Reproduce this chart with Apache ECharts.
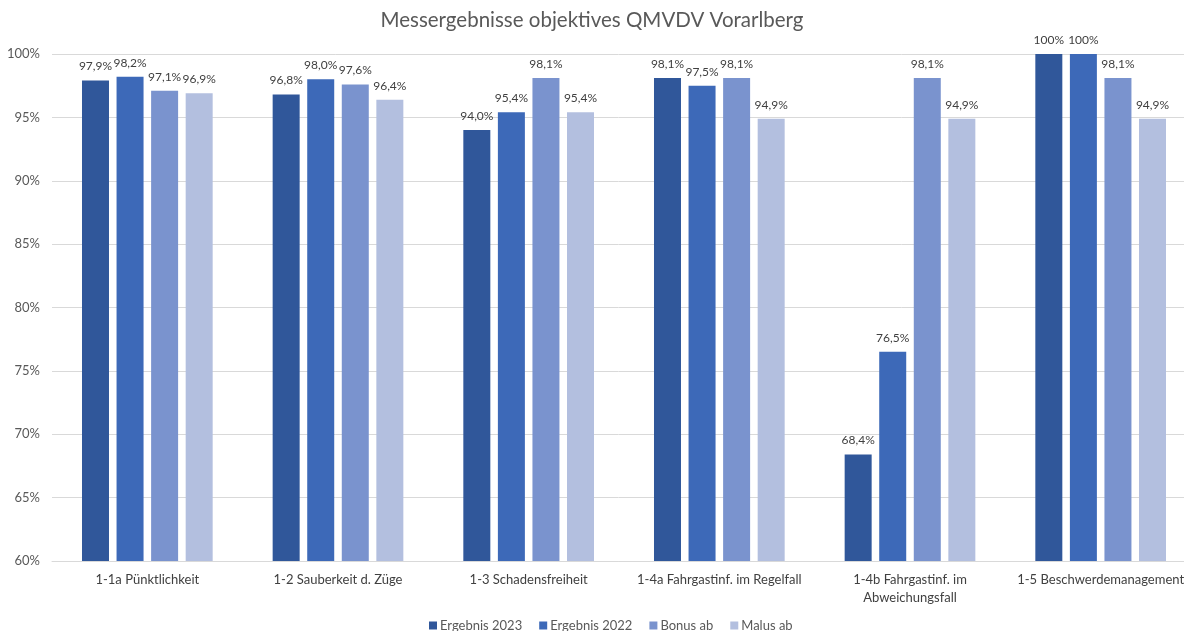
<!DOCTYPE html>
<html>
<head>
<meta charset="utf-8">
<script src="https://cdn.jsdelivr.net/npm/echarts@6/dist/echarts.min.js"></script>
<style>
  html, body { margin: 0; padding: 0; background: #ffffff; }
  #chart { width: 1184px; height: 631px; }
</style>
</head>
<body>
<div id="chart"></div>
<script>
const categories = [
  '1-1a Pünktlichkeit',
  '1-2 Sauberkeit d. Züge',
  '1-3 Schadensfreiheit',
  '1-4a Fahrgastinf. im Regelfall',
  '1-4b Fahrgastinf. im\nAbweichungsfall',
  '1-5 Beschwerdemanagement'
];
const seriesNames = ['Ergebnis 2023', 'Ergebnis 2022', 'Bonus ab', 'Malus ab'];
const ergebnis2023 = [97.9, 96.8, 94.0, 98.1, 68.4, 100];
const ergebnis2022 = [98.2, 98.0, 95.4, 97.5, 76.5, 100];
const bonusAb      = [97.1, 97.6, 98.1, 98.1, 98.1, 98.1];
const malusAb      = [96.9, 96.4, 95.4, 94.9, 94.9, 94.9];
const yTicks = [60, 65, 70, 75, 80, 85, 90, 95, 100];

const colors = ['#30579a', '#3d69b8', '#7a93ce', '#b3bfdf'];
const FONT = 'Lato';

// Full marks are written as "100%", everything else with one decimal and a comma
function pct(v) {
  return (v === 100 ? '100' : v.toFixed(1).replace('.', ',')) + '%';
}

const allValues = [ergebnis2023, ergebnis2022, bonusAb, malusAb];

const chart = echarts.init(document.getElementById('chart'), null, { renderer: 'canvas' });
chart.setOption({
  animation: false,
  color: colors,
  textStyle: { fontFamily: FONT },
  title: {
    text: 'Messergebnisse objektives QMVDV Vorarlberg',
    left: 'center',
    top: 10,
    padding: [0, 0, 0, 26],
    textStyle: { fontFamily: FONT, fontSize: 20.5, fontWeight: 'normal', color: '#595959' }
  },
  legend: {
    data: seriesNames,
    bottom: -6,
    left: 424,
    itemWidth: 8,
    itemHeight: 8,
    itemGap: 17,
    icon: 'rect',
    textStyle: { fontFamily: FONT, fontSize: 13, color: '#595959', padding: [0, 0, 0, -2] }
  },
  grid: { left: 52, right: -12, top: 54, bottom: 70, containLabel: false, outerBoundsMode: 'none' },
  xAxis: {
    type: 'category',
    data: categories,
    axisTick: { show: false },
    axisLine: { lineStyle: { color: '#d9d9d9', width: 1 } },
    axisLabel: {
      interval: 0,
      margin: 10,
      fontFamily: FONT,
      fontSize: 13,
      color: '#404040',
      lineHeight: 18
    }
  },
  yAxis: {
    type: 'value',
    min: yTicks[0],
    max: yTicks[yTicks.length - 1],
    interval: 5,
    axisLine: { show: false },
    axisTick: { show: false },
    splitLine: { lineStyle: { color: '#d9d9d9', width: 1 } },
    axisLabel: {
      margin: 12,
      fontFamily: FONT,
      fontSize: 13,
      color: '#595959',
      formatter: v => v + '%'
    }
  },
  series: seriesNames.map((name, i) => ({
    name,
    type: 'bar',
    data: allValues[i],
    barWidth: 27,
    barGap: '28%',
    itemStyle: { color: colors[i] },
    label: {
      show: true,
      position: 'top',
      distance: 8,
      fontFamily: FONT,
      fontSize: 12,
      color: '#404040',
      formatter: p => pct(p.value)
    }
  }))
});
</script>
</body>
</html>
